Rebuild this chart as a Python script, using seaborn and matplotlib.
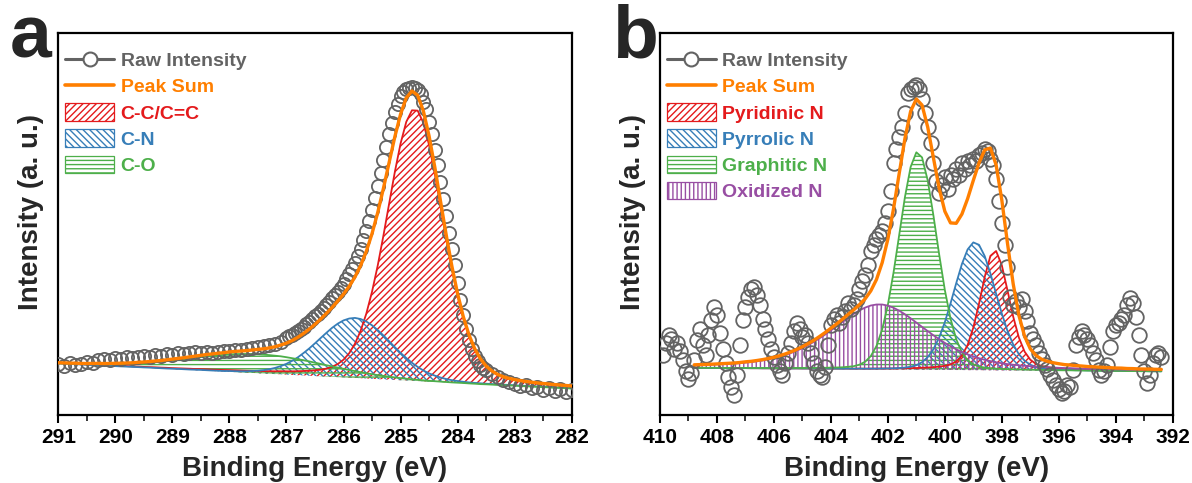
import numpy as np
import matplotlib
matplotlib.use("Agg")
import matplotlib.pyplot as plt
from matplotlib.lines import Line2D
from matplotlib.patches import Patch
from matplotlib.ticker import MultipleLocator
import seaborn as sns

# ---------------- Panel a : C 1s ----------------
a_energy = np.linspace(291.0, 282.0, 91)
a_base = [51.0, 50.7, 50.4, 50.2, 49.9, 49.6, 49.3, 49.1, 48.8, 48.5,
          48.2, 47.9, 47.7, 47.4, 47.1, 46.8, 46.6, 46.3, 46.0, 45.7,
          45.4, 45.2, 44.9, 44.6, 44.3, 44.1, 43.8, 43.5, 43.2, 42.9,
          42.7, 42.4, 42.1, 41.8, 41.6, 41.3, 41.0, 40.7, 40.4, 40.2,
          39.9, 39.6, 39.3, 39.1, 38.8, 38.5, 38.2, 37.9, 37.7, 37.4,
          37.1, 36.8, 36.6, 36.3, 36.0, 35.7, 35.4, 35.2, 34.9, 34.6,
          34.3, 34.1, 33.8, 33.5, 33.2, 32.9, 32.7, 32.4, 32.1, 31.8,
          31.6, 31.3, 31.0, 30.7, 30.4, 30.2, 29.9, 29.6, 29.3, 29.1,
          28.8, 28.5, 28.2, 27.9, 27.7, 27.4, 27.1, 26.8, 26.6, 26.3,
          26.0]
a_cc = [0.5, 0.5, 0.5, 0.5, 0.5, 0.5, 0.6, 0.6, 0.6, 0.6,
        0.7, 0.7, 0.7, 0.7, 0.8, 0.8, 0.8, 0.9, 0.9, 1.0,
        1.0, 1.0, 1.1, 1.2, 1.2, 1.3, 1.4, 1.4, 1.5, 1.6,
        1.7, 1.8, 1.9, 2.0, 2.1, 2.3, 2.4, 2.6, 2.8, 3.1,
        3.3, 3.6, 4.0, 4.4, 5.0, 5.7, 6.6, 8.0, 10.0, 13.1,
        17.7, 24.5, 34.1, 47.4, 64.9, 87.1, 113.6, 143.8, 176.0, 208.0,
        236.6, 258.5, 270.4, 270.4, 258.5, 236.6, 208.0, 176.0, 143.8, 113.6,
        87.1, 64.9, 47.4, 34.1, 24.5, 17.7, 13.1, 10.0, 8.0, 6.6,
        5.7, 5.0, 4.4, 4.0, 3.6, 3.3, 3.1, 2.8, 2.6, 2.4,
        2.3]
a_cn = [0.1, 0.1, 0.1, 0.1, 0.1, 0.1, 0.2, 0.2, 0.2, 0.2,
        0.2, 0.2, 0.2, 0.2, 0.3, 0.3, 0.3, 0.3, 0.3, 0.3,
        0.4, 0.4, 0.4, 0.4, 0.5, 0.5, 0.5, 0.5, 0.6, 0.6,
        0.8, 0.9, 1.1, 1.4, 1.9, 2.5, 3.4, 4.6, 6.2, 8.2,
        10.8, 14.1, 17.9, 22.4, 27.3, 32.7, 38.3, 43.8, 49.0, 53.5,
        57.0, 59.2, 60.0, 59.2, 57.0, 53.5, 49.0, 43.8, 38.3, 32.7,
        27.3, 22.4, 17.9, 14.1, 10.8, 8.2, 6.2, 4.6, 3.4, 2.5,
        1.9, 1.4, 1.1, 0.9, 0.8, 0.6, 0.6, 0.5, 0.5, 0.5,
        0.4, 0.4, 0.4, 0.4, 0.3, 0.3, 0.3, 0.3, 0.3, 0.3,
        0.3]
a_co = [0.2, 0.3, 0.4, 0.5, 0.6, 0.8, 1.0, 1.2, 1.4, 1.7,
        2.1, 2.5, 2.9, 3.4, 4.0, 4.6, 5.3, 6.0, 6.8, 7.7,
        8.6, 9.5, 10.4, 11.4, 12.4, 13.3, 14.3, 15.2, 16.0, 16.7,
        17.4, 18.0, 18.4, 18.7, 18.9, 19.0, 18.9, 18.7, 18.4, 18.0,
        17.4, 16.7, 16.0, 15.2, 14.3, 13.3, 12.4, 11.4, 10.4, 9.5,
        8.6, 7.7, 6.8, 6.0, 5.3, 4.6, 4.0, 3.4, 2.9, 2.5,
        2.1, 1.7, 1.4, 1.2, 1.0, 0.8, 0.6, 0.5, 0.4, 0.3,
        0.2, 0.2, 0.1, 0.1, 0.0, 0.0, 0.0, 0.0, 0.0, 0.0,
        0.0, 0.0, 0.0, 0.0, 0.0, 0.0, 0.0, 0.0, 0.0, 0.0,
        0.0]
a_sum = [51.8, 51.6, 51.4, 51.3, 51.1, 51.0, 51.1, 51.1, 51.0, 51.0,
         51.2, 51.3, 51.5, 51.7, 52.2, 52.5, 53.0, 53.5, 54.0, 54.7,
         55.4, 56.1, 56.8, 57.6, 58.4, 59.2, 60.0, 60.6, 61.3, 61.8,
         62.6, 63.1, 63.5, 63.9, 64.5, 65.1, 65.7, 66.6, 67.8, 69.5,
         71.4, 74.0, 77.2, 81.1, 85.4, 90.2, 95.5, 101.1, 107.1, 113.5,
         120.4, 128.2, 137.5, 148.9, 163.2, 180.9, 202.0, 226.2, 252.1, 277.8,
         300.3, 316.7, 323.5, 319.2, 303.5, 278.5, 247.5, 213.5, 179.7, 148.2,
         120.8, 97.8, 79.6, 65.8, 55.7, 48.5, 43.6, 40.1, 37.8, 36.2,
         34.9, 33.9, 33.0, 32.3, 31.6, 31.0, 30.5, 29.9, 29.5, 29.0,
         28.6]
a_raw_energy = np.concatenate([np.linspace(291.0, 287.1, 40),
                               np.linspace(287.0, 283.5, 71),
                               np.linspace(283.4, 282.0, 15)])
a_raw = [51, 49, 52, 50, 51, 53, 52, 55, 56, 55,
         57, 56, 58, 57, 58, 59, 58, 60, 59, 61,
         60, 62, 61, 62, 63, 62, 63, 62, 63, 64,
         64, 65, 65, 66, 67, 68, 69, 70, 71, 73,
         77, 79, 80, 82, 84, 86, 88, 91, 93, 96,
         99, 101, 104, 107, 110, 113, 117, 120, 123, 127,
         131, 136, 141, 146, 152, 159, 166, 175, 184, 194,
         205, 217, 229, 242, 255, 268, 281, 292, 303, 311,
         319, 323, 326, 327, 328, 327, 325, 321, 313, 306,
         293, 281, 265, 250, 233, 216, 199, 182, 166, 150,
         132, 115, 100, 86, 75, 66, 59, 54, 50, 47,
         45,
         41, 38, 35, 33, 31, 29, 30, 27, 28, 25, 27, 24, 26, 23, 25]

# ---------------- Panel b : N 1s ----------------
b_energy = np.linspace(408.8, 392.4, 83)
b_base = [46.5, 46.5, 46.5, 46.4, 46.4, 46.3, 46.3, 46.2, 46.2, 46.2,
          46.1, 46.1, 46.0, 46.0, 45.9, 45.9, 45.8, 45.8, 45.8, 45.7,
          45.7, 45.6, 45.6, 45.5, 45.5, 45.5, 45.4, 45.4, 45.3, 45.3,
          45.2, 45.2, 45.1, 45.1, 45.1, 45.0, 45.0, 44.9, 44.9, 44.8,
          44.8, 44.8, 44.7, 44.7, 44.6, 44.6, 44.5, 44.5, 44.4, 44.4,
          44.4, 44.3, 44.3, 44.2, 44.2, 44.1, 44.1, 44.1, 44.0, 44.0,
          43.9, 43.9, 43.8, 43.8, 43.7, 43.7, 43.7, 43.6, 43.6, 43.5,
          43.5, 43.4, 43.4, 43.4, 43.3, 43.3, 43.2, 43.2, 43.1, 43.1,
          43.0, 43.0, 43.0]
b_pyridinic = [0.1, 0.1, 0.1, 0.1, 0.1, 0.2, 0.2, 0.2, 0.2, 0.2,
               0.2, 0.2, 0.2, 0.2, 0.2, 0.2, 0.3, 0.3, 0.3, 0.3,
               0.3, 0.3, 0.4, 0.4, 0.4, 0.4, 0.5, 0.5, 0.5, 0.6,
               0.6, 0.7, 0.8, 0.9, 0.9, 1.0, 1.2, 1.3, 1.5, 1.7,
               2.0, 2.2, 2.6, 3.2, 4.0, 5.5, 8.4, 14.3, 25.1, 42.5,
               66.4, 93.2, 114.3, 119.3, 105.1, 80.0, 53.8, 32.8, 18.9, 10.8,
               6.7, 4.6, 3.6, 2.9, 2.4, 2.0, 1.8, 1.6, 1.4, 1.2,
               1.1, 1.0, 0.9, 0.8, 0.7, 0.7, 0.6, 0.6, 0.5, 0.5,
               0.5, 0.4, 0.4]
b_pyrrolic = [0.1, 0.1, 0.1, 0.1, 0.1, 0.1, 0.1, 0.1, 0.1, 0.2,
              0.2, 0.2, 0.2, 0.2, 0.2, 0.2, 0.2, 0.2, 0.3, 0.3,
              0.3, 0.3, 0.3, 0.4, 0.4, 0.4, 0.4, 0.5, 0.5, 0.6,
              0.6, 0.7, 0.8, 0.9, 1.0, 1.2, 1.5, 2.0, 2.9, 4.5,
              7.5, 12.6, 20.6, 32.2, 47.7, 66.5, 86.8, 106.0, 120.7, 127.7,
              125.3, 114.1, 96.8, 76.6, 56.8, 39.5, 25.9, 16.2, 9.8, 5.8,
              3.6, 2.3, 1.7, 1.3, 1.1, 0.9, 0.8, 0.7, 0.7, 0.6,
              0.5, 0.5, 0.45, 0.4, 0.4, 0.35, 0.3, 0.3, 0.3, 0.3,
              0.25, 0.25, 0.2]
b_graphitic = [0.2, 0.2, 0.2, 0.3, 0.3, 0.3, 0.3, 0.3, 0.4, 0.4,
               0.4, 0.4, 0.5, 0.5, 0.5, 0.6, 0.6, 0.7, 0.7, 0.8,
               0.9, 1.0, 1.1, 1.2, 1.4, 1.5, 1.8, 2.3, 3.0, 4.5,
               7.5, 13.2, 23.4, 40.0, 64.6, 97.1, 134.9, 172.7, 202.7, 217.4,
               212.3, 189.1, 154.2, 115.6, 79.9, 51.3, 30.8, 17.6, 9.9, 5.8,
               3.6, 2.6, 2.0, 1.6, 1.4, 1.3, 1.1, 1.0, 0.9, 0.8,
               0.8, 0.7, 0.65, 0.6, 0.55, 0.5, 0.5, 0.45, 0.4, 0.4,
               0.4, 0.35, 0.3, 0.3, 0.3, 0.3, 0.25, 0.24, 0.22, 0.2,
               0.2, 0.2, 0.2]
b_oxidized = [2.8, 3.0, 3.2, 3.4, 3.7, 4.0, 4.3, 4.7, 5.1, 5.7,
              6.3, 7.1, 8.0, 9.1, 10.4, 11.9, 13.7, 15.7, 18.0, 20.7,
              23.7, 27.0, 30.6, 34.5, 38.6, 42.8, 47.1, 51.3, 55.3, 58.8,
              61.7, 63.8, 64.9, 64.9, 63.8, 61.7, 58.8, 55.3, 51.3, 47.1,
              42.8, 38.6, 34.5, 30.6, 27.0, 23.7, 20.7, 18.0, 15.7, 13.7,
              11.9, 10.4, 9.1, 8.0, 7.1, 6.3, 5.7, 5.1, 4.7, 4.3,
              4.0, 3.7, 3.4, 3.2, 3.0, 2.8, 2.7, 2.5, 2.4, 2.3,
              2.2, 2.1, 2.0, 1.9, 1.8, 1.7, 1.6, 1.6, 1.5, 1.4,
              1.4, 1.3, 1.3]
b_sum = [49.7, 49.9, 50.1, 50.3, 50.6, 50.9, 51.2, 51.5, 52.0, 52.7,
         53.2, 54.0, 54.9, 56.0, 57.2, 58.8, 60.6, 62.7, 65.1, 67.8,
         70.9, 74.2, 78.0, 82.0, 86.3, 90.6, 95.2, 100.0, 104.6, 109.8,
         115.6, 123.6, 135.0, 151.8, 175.4, 206.0, 241.4, 276.2, 303.3, 315.5,
         309.4, 287.3, 256.6, 226.3, 203.2, 191.6, 191.2, 200.4, 215.8, 234.1,
         251.6, 264.6, 266.5, 249.7, 214.6, 171.2, 130.6, 99.2, 78.3, 65.7,
         59.0, 55.2, 53.2, 51.8, 50.8, 49.9, 49.5, 48.9, 48.5, 48.0,
         47.7, 47.4, 47.1, 46.8, 46.5, 46.4, 46.0, 45.9, 45.6, 45.5,
         45.4, 45.2, 45.1]
b_raw_energy = np.linspace(409.9, 392.4, 176)
b_raw = [60, 72, 80, 76, 66, 72, 64, 55, 44, 36,
         42, 55, 75, 86, 70, 60, 80, 95, 108, 100,
         82, 66, 52, 38, 28, 20, 40, 70, 95, 108,
         118, 126, 128, 120, 110, 96, 86, 76, 66, 58,
         50, 44, 40, 52, 62, 72, 84, 92, 86, 78,
         80, 72, 62, 52, 44, 40, 38, 48, 70, 90,
         96, 100, 92, 98, 104, 112, 106, 110, 116, 126,
         134, 140, 150, 164, 170, 176, 180, 184, 192, 204,
         224, 252, 266, 278, 288, 302, 322, 326, 328, 330,
         326, 316, 302, 288, 272, 252, 234, 222, 230, 238,
         226, 240, 236, 246, 240, 252, 246, 254, 250, 256,
         254, 260, 262, 266, 264, 256, 250, 236, 214, 192,
         170, 148, 118, 110, 114, 108, 116, 104, 94, 82,
         76, 70, 62, 56, 50, 46, 40, 35, 30, 26,
         22, 24, 30, 28, 45, 70, 78, 84, 80, 76,
         70, 62, 55, 45, 40, 44, 50, 68, 84, 90,
         92, 96, 100, 110, 117, 112, 98, 80, 60, 44,
         32, 40, 52, 60, 62, 58]

# ---------------- styling ----------------
GREY = '#636363'
ORANGE = '#FF7F00'
RED = '#E41A1C'
BLUE = '#377EB8'
GREEN = '#4DAF4A'
PURPLE = '#984EA3'

sns.set_theme(style="ticks")
plt.rcParams['font.family'] = ['Liberation Sans', 'DejaVu Sans']
plt.rcParams['font.weight'] = 'bold'
plt.rcParams['axes.labelweight'] = 'bold'
plt.rcParams['hatch.linewidth'] = 1.0
plt.rcParams['axes.linewidth'] = 1.6
plt.rcParams['axes.edgecolor'] = 'black'

fig = plt.figure(figsize=(11.92, 4.83), dpi=100)
axa = fig.add_axes([0.0489, 0.1418, 0.4307, 0.7909])
axb = fig.add_axes([0.5537, 0.1418, 0.4301, 0.7909])


def draw_panel(ax, energy, base, comps, total, raw_e, raw_y, ms, xlim, major, minor):
    base = np.asarray(base, dtype=float)
    for vals, color, hatch, label in comps:
        top = base + np.asarray(vals, dtype=float)
        ax.fill_between(energy, base, top, facecolor='none', edgecolor=color,
                        hatch=hatch, linewidth=0, zorder=2)
        sns.lineplot(x=energy, y=top, ax=ax, color=color, linewidth=1.3,
                     sort=False, estimator=None, errorbar=None, zorder=3)
    sns.lineplot(x=raw_e, y=raw_y, ax=ax, color=GREY, linestyle='none',
                 marker='o', markersize=ms, markerfacecolor='none',
                 markeredgecolor=GREY, markeredgewidth=1.3,
                 sort=False, estimator=None, errorbar=None, zorder=4)
    sns.lineplot(x=energy, y=total, ax=ax, color=ORANGE, linewidth=2.4,
                 sort=False, estimator=None, errorbar=None, zorder=5)

    ax.set_xlim(*xlim)
    ax.set_ylim(0, 382)
    ax.xaxis.set_major_locator(MultipleLocator(major))
    ax.xaxis.set_minor_locator(MultipleLocator(minor))
    ax.set_yticks([])
    ax.tick_params(axis='x', which='major', direction='out', length=6, width=1.5,
                   labelsize=15, pad=4, colors='black')
    ax.tick_params(axis='x', which='minor', direction='out', length=4, width=1.3)
    ax.tick_params(top=False, right=False, left=False)
    for s in ax.spines.values():
        s.set_visible(True)
        s.set_color('black')
        s.set_linewidth(1.6)
    ax.set_xlabel('Binding Energy (eV)', fontsize=20, fontweight='bold', labelpad=6)
    ax.set_ylabel('Intensity (a. u.)', fontsize=20, fontweight='bold')
    ax.yaxis.set_label_coords(-0.027, 0.53)
    for lab in ax.get_xticklabels():
        lab.set_fontweight('bold')

    handles = [Line2D([], [], color=GREY, lw=2.2, marker='o', markersize=10,
                      markerfacecolor='white', markeredgecolor=GREY, markeredgewidth=1.5),
               Line2D([], [], color=ORANGE, lw=2.6)]
    labels = ['Raw Intensity', 'Peak Sum']
    colors = [GREY, ORANGE]
    for vals, color, hatch, label in comps:
        handles.append(Patch(facecolor='white', edgecolor=color, hatch=hatch, linewidth=0.9))
        labels.append(label)
        colors.append(color)
    ax.legend(handles, labels, loc='upper left', bbox_to_anchor=(0.0136, 0.952),
              frameon=False, borderaxespad=0, borderpad=0, handlelength=2.5,
              handleheight=1.0, handletextpad=0.35, labelspacing=0.35,
              prop={'weight': 'bold', 'size': 14}, labelcolor=colors)


draw_panel(axa, a_energy, a_base,
           [(a_cc, RED, '/////', 'C-C/C=C'),
            (a_cn, BLUE, '\\\\\\\\\\', 'C-N'),
            (a_co, GREEN, '----', 'C-O')],
           a_sum, a_raw_energy, a_raw, 9.5, (291, 282), 1, 0.5)

draw_panel(axb, b_energy, b_base,
           [(b_pyridinic, RED, '/////', 'Pyridinic N'),
            (b_pyrrolic, BLUE, '\\\\\\\\\\', 'Pyrrolic N'),
            (b_graphitic, GREEN, '----', 'Graphitic N'),
            (b_oxidized, PURPLE, '||||', 'Oxidized N')],
           b_sum, b_raw_energy, b_raw, 10.5, (410, 392), 2, 1)

fig.text(10 / 1192, 1 - 57 / 483, 'a', fontsize=54, fontweight='bold', ha='left', va='baseline')
fig.text(612 / 1192, 1 - 57 / 483, 'b', fontsize=54, fontweight='bold', ha='left', va='baseline')

fig.savefig('out.png', dpi=100)
